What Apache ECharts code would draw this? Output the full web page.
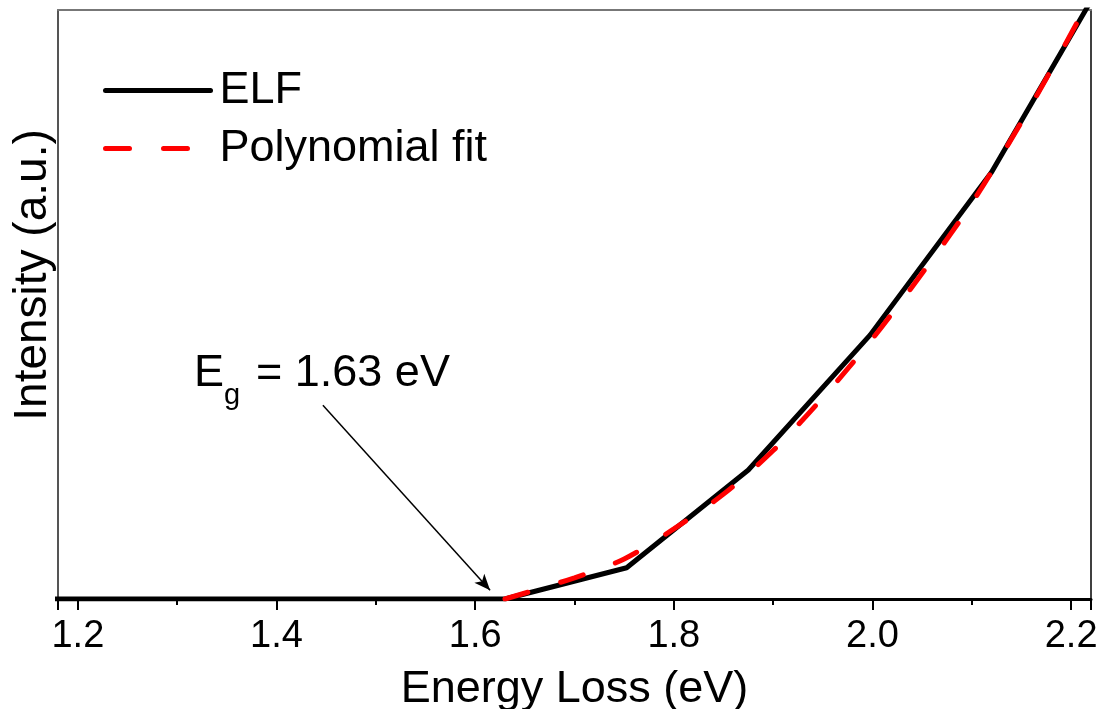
<!DOCTYPE html>
<html>
<head>
<meta charset="utf-8">
<script src="https://cdn.jsdelivr.net/npm/echarts@6/dist/echarts.min.js"></script>
<style>html,body{margin:0;padding:0;background:#fff;}#c{width:1105px;height:709px;}</style>
</head>
<body>
<div id="c"></div>
<script>
// ELF (black solid) sampled points
const elfX = [1.14, 1.2625, 1.385, 1.5075, 1.63, 1.7525, 1.875, 1.9975, 2.12, 2.2425];
const elfY = [0, 0, 0, 0, 0, 5.3, 21.9, 44.8, 72.5, 108.1];
// Polynomial fit (red dashed)
const fitX = [1.63, 1.70, 1.75, 1.80, 1.85, 1.90, 1.95, 2.00, 2.05, 2.10, 2.15, 2.20, 2.25];
const fitY = [0, 3.6, 6.8, 11.9, 17.8, 25.2, 34.2, 44.2, 55.3, 67.2, 81.0, 96.0, 112];
// Axis ticks
const xTicks = [1.2, 1.4, 1.6, 1.8, 2.0, 2.2];
const seriesNames = ['ELF', 'Polynomial fit'];
const annotText = ['E', 'g', '= 1.63 eV'];
const yTitle = 'Intensity (a.u.)';
const arrowFrom = [1.4467, 32.9];
const arrowTo = [1.615, 1.5];

const FONT = '"Liberation Sans", Arial, sans-serif';
const chart = echarts.init(document.getElementById('c'), null, {renderer: 'canvas'});
const zip = (xs, ys) => xs.map((x, i) => [x, ys[i]]);

const legendBase = {
  left: 103, padding: 0, itemWidth: 105, itemHeight: 44, selectedMode: false,
  itemStyle: {opacity: 0},
  lineStyle: {width: 5, cap: 'round'},
  textStyle: {fontFamily: FONT, fontSize: 45, color: '#000', padding: [0, 0, 0, 4]}
};

const option = {
  animation: false,
  backgroundColor: '#fff',
  grid: {left: 58, right: 14, top: 10, bottom: 110, containLabel: false, outerBoundsMode: 'none'},
  legend: [
    Object.assign({}, legendBase, {data: [seriesNames[0]], top: 68}),
    Object.assign({}, legendBase, {data: [seriesNames[1]], top: 126})
  ],
  xAxis: [
    {type: 'value', min: 1.18, max: 2.22, splitNumber: 5, position: 'bottom',
     name: 'Energy Loss (eV)', nameLocation: 'middle', nameGap: 68,
     nameTextStyle: {fontFamily: FONT, fontSize: 45, color: '#000'},
     axisLine: {show: true, onZero: false, lineStyle: {color: '#000', width: 3}},
     axisTick: {show: true, inside: false, length: 11, lineStyle: {color: '#000', width: 2}},
     minorTick: {show: true, splitNumber: 2, length: 6, lineStyle: {color: '#000', width: 2}},
     axisLabel: {show: true, margin: 19, fontFamily: FONT, fontSize: 38, color: '#000',
       showMinLabel: false, showMaxLabel: false,
       formatter: v => (xTicks.some(t => Math.abs(t - v) < 1e-6) ? v.toFixed(1) : '')},
     splitLine: {show: false}},
    {type: 'value', min: 1.18, max: 2.22, position: 'top',
     axisLine: {show: true, onZero: false, lineStyle: {color: '#777', width: 2}},
     axisTick: {show: false}, axisLabel: {show: false}, splitLine: {show: false}}
  ],
  yAxis: [
    {type: 'value', min: 0, max: 100, position: 'left',
     axisLine: {show: true, onZero: false, lineStyle: {color: '#555', width: 2}},
     axisTick: {show: false}, axisLabel: {show: false}, splitLine: {show: false}},
    {type: 'value', min: 0, max: 100, position: 'right',
     axisLine: {show: true, onZero: false, lineStyle: {color: '#000', width: 1.5}},
     axisTick: {show: false}, axisLabel: {show: false}, splitLine: {show: false}}
  ],
  series: [
    {name: seriesNames[0], type: 'line', data: zip(elfX, elfY), symbol: 'none', clip: true,
     lineStyle: {color: '#000', width: 5, join: 'round', cap: 'round'}, itemStyle: {color: '#000'},
     z: 2,
     markLine: {silent: true, symbol: ['none', 'arrow'], symbolSize: [10, 16],
       label: {show: false},
       lineStyle: {color: '#000', width: 1.5, type: 'solid'},
       data: [[{coord: arrowFrom}, {coord: arrowTo}]]}},
    {name: seriesNames[1], type: 'line', data: zip(fitX, fitY), symbol: 'none', smooth: 0.3, clip: true,
     lineStyle: {color: '#ff0000', width: 5, type: [24, 34], cap: 'round'}, itemStyle: {color: '#ff0000'},
     z: 3}
  ],
  graphic: [
    {type: 'text', x: 33, y: 275, rotation: Math.PI / 2,
     style: {text: yTitle, fontSize: 46, fontFamily: FONT, fill: '#000', align: 'center', verticalAlign: 'middle'}},
    {type: 'text', x: 194, y: 374, style: {text: annotText[0], fontSize: 45, fontFamily: FONT, fill: '#000', align: 'left', verticalAlign: 'middle'}},
    {type: 'text', x: 224, y: 396, style: {text: annotText[1], fontSize: 29, fontFamily: FONT, fill: '#000', align: 'left', verticalAlign: 'middle'}},
    {type: 'text', x: 256, y: 374, style: {text: annotText[2], fontSize: 45, fontFamily: FONT, fill: '#000', align: 'left', verticalAlign: 'middle'}}
  ]
};
chart.setOption(option);
</script>
</body>
</html>
